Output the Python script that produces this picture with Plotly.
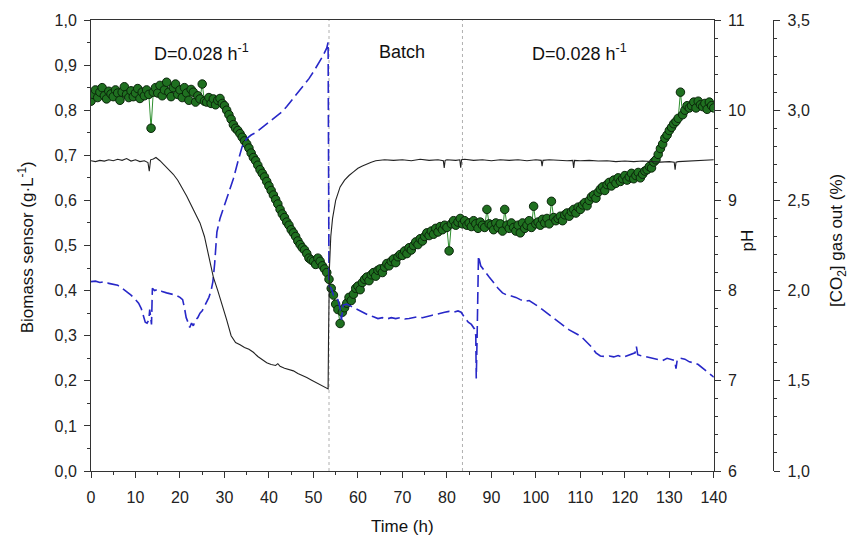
import plotly.graph_objects as go

# ---------------- data ----------------
bio_time = [i * 0.5 for i in range(281)]
biomass = [
    0.82, 0.835, 0.845, 0.828, 0.84, 0.85, 0.832, 0.825, 0.842, 0.836,
    0.83, 0.845, 0.838, 0.822, 0.84, 0.852, 0.835, 0.828, 0.843, 0.83,
    0.838, 0.848, 0.826, 0.84, 0.832, 0.845, 0.835, 0.76, 0.84, 0.85,
    0.838, 0.855, 0.832, 0.845, 0.862, 0.84, 0.83, 0.85, 0.858, 0.835,
    0.845, 0.828, 0.85, 0.838, 0.822, 0.846, 0.84, 0.818, 0.832, 0.825,
    0.858, 0.82, 0.818, 0.828, 0.815, 0.825, 0.812, 0.822, 0.826, 0.815,
    0.81, 0.80, 0.79, 0.78, 0.768, 0.76, 0.755, 0.748, 0.74, 0.732,
    0.725, 0.716, 0.705, 0.695, 0.688, 0.678, 0.668, 0.66, 0.652, 0.642,
    0.632, 0.622, 0.612, 0.602, 0.592, 0.58, 0.57, 0.562, 0.552, 0.545,
    0.535, 0.528, 0.52, 0.51, 0.502, 0.495, 0.49, 0.482, 0.472, 0.468,
    0.465, 0.458, 0.472, 0.465, 0.455, 0.448, 0.44, 0.425, 0.405, 0.39,
    0.37, 0.358, 0.327, 0.352, 0.362, 0.372, 0.385, 0.378, 0.392, 0.405,
    0.41, 0.402, 0.418, 0.425, 0.43, 0.422, 0.435, 0.44, 0.432, 0.445,
    0.448, 0.44, 0.452, 0.46, 0.455, 0.465, 0.47, 0.462, 0.475, 0.48,
    0.478, 0.488, 0.482, 0.495, 0.49, 0.50, 0.508, 0.502, 0.515, 0.51,
    0.52, 0.528, 0.522, 0.532, 0.525, 0.538, 0.53, 0.542, 0.535, 0.545,
    0.54, 0.488, 0.548, 0.555, 0.545, 0.552, 0.56, 0.548, 0.555, 0.545,
    0.55, 0.542, 0.555, 0.548, 0.538, 0.552, 0.545, 0.54, 0.58, 0.548,
    0.545, 0.535, 0.55, 0.54, 0.548, 0.532, 0.58, 0.545, 0.538, 0.55,
    0.54, 0.532, 0.545, 0.528, 0.55, 0.538, 0.545, 0.555, 0.54, 0.587,
    0.548, 0.552, 0.545, 0.558, 0.55, 0.56, 0.548, 0.598, 0.562, 0.555,
    0.56, 0.565, 0.555, 0.568, 0.572, 0.565, 0.575, 0.58, 0.572, 0.585,
    0.58, 0.59, 0.595, 0.588, 0.60, 0.608, 0.612, 0.605, 0.618, 0.625,
    0.63, 0.622, 0.635, 0.64, 0.632, 0.645, 0.638, 0.65, 0.642, 0.648,
    0.655, 0.645, 0.652, 0.66, 0.648, 0.655, 0.662, 0.65, 0.658, 0.665,
    0.668, 0.675, 0.672, 0.685, 0.69, 0.702, 0.715, 0.725, 0.738, 0.745,
    0.755, 0.762, 0.77, 0.775, 0.782, 0.84, 0.79, 0.80, 0.81, 0.805,
    0.81, 0.818, 0.805, 0.82, 0.812, 0.808, 0.815, 0.802, 0.818, 0.81,
    0.805,
]

ph_time = [
    0, 1, 2, 3, 4, 5, 6, 7, 8, 9,
    10, 10.7, 11.3, 11.8, 12.2, 12.6, 13.0, 13.2, 13.4, 13.6,
    13.8, 14.3, 15, 16, 17, 18, 19, 20, 20.6, 21.0,
    21.4, 21.8, 22.2, 22.6, 23.0, 23.5, 24, 24.5, 25, 25.5,
    26, 26.5, 27, 27.4, 27.8, 28.3, 29, 30, 31, 32,
    33, 34, 35, 36, 37, 38, 39, 40, 41, 42,
    43, 44, 45, 46, 47, 48, 49, 50, 51, 52,
    53, 53.3, 53.5, 54, 54.5, 55, 55.5, 56, 56.3, 56.7,
    57.5, 58.5, 59.5, 60.5, 61.5, 62.5, 63.5, 64.5, 65.5, 66.5,
    67.5, 68.5, 69.5, 70.5, 71.5, 72.5, 73.5, 74.5, 75.5, 76.5,
    77.5, 78.5, 79.5, 80.5, 81.5, 82.5, 83.2, 84, 84.8, 85.5,
    86.2, 86.5, 86.6, 86.8, 87.1, 87.6, 88.4, 89.5, 90.5, 91.5,
    92.5, 93.5, 94.5, 95.5, 96.5, 97.5, 98.5, 99.5, 100.5, 101.5,
    102.5, 103.5, 104.5, 105.5, 106.5, 107.5, 108.5, 109.5, 110.5, 111.5,
    112.5, 113.5, 114.5, 115.5, 116.5, 117.5, 118.5, 119.5, 120.5, 121.5,
    122.3, 122.6, 122.9, 123.5, 124.5, 125.5, 126.5, 127.5, 128.5, 129.5,
    130.5, 131.2, 131.5, 131.8, 132.5, 133.5, 134.5, 135.5, 136.5, 137.5,
    138.5, 139.5, 140,
]
ph_value = [
    8.10, 8.105, 8.09, 8.10, 8.08, 8.07, 8.06, 8.025, 7.99, 7.95,
    7.90, 7.86, 7.80, 7.725, 7.65, 7.64, 7.675, 7.79, 7.65, 7.625,
    8.025, 8.00, 8.015, 7.99, 7.975, 7.96, 7.95, 7.925, 7.90, 7.81,
    7.70, 7.65, 7.59, 7.64, 7.61, 7.675, 7.70, 7.75, 7.775, 7.825,
    7.875, 7.925, 8.00, 8.10, 8.30, 8.65, 8.80, 8.95, 9.075, 9.24,
    9.425, 9.60, 9.685, 9.725, 9.75, 9.79, 9.825, 9.86, 9.90, 9.94,
    9.985, 10.04, 10.10, 10.16, 10.225, 10.285, 10.35, 10.425, 10.50, 10.59,
    10.69, 10.755, 8.05, 8.025, 7.95, 7.925, 7.90, 7.80, 7.675, 7.84,
    7.85, 7.825, 7.80, 7.775, 7.75, 7.725, 7.71, 7.69, 7.70, 7.685,
    7.70, 7.69, 7.70, 7.685, 7.69, 7.70, 7.71, 7.70, 7.715, 7.725,
    7.735, 7.75, 7.76, 7.77, 7.76, 7.775, 7.76, 7.70, 7.65, 7.625,
    7.575, 7.50, 7.025, 7.50, 8.385, 8.275, 8.22, 8.15, 8.09, 8.025,
    7.975, 7.95, 7.94, 7.925, 7.90, 7.88, 7.89, 7.86, 7.825, 7.79,
    7.75, 7.71, 7.675, 7.64, 7.60, 7.565, 7.54, 7.51, 7.475, 7.425,
    7.375, 7.31, 7.275, 7.27, 7.275, 7.265, 7.28, 7.26, 7.275, 7.29,
    7.31, 7.38, 7.29, 7.28, 7.27, 7.26, 7.25, 7.235, 7.225, 7.25,
    7.24, 7.225, 7.135, 7.24, 7.25, 7.24, 7.21, 7.20, 7.18, 7.14,
    7.09, 7.06, 7.04,
]

co2_time = [
    0, 1, 2, 3, 4, 5, 6, 7, 8, 9,
    10, 11, 12, 12.8, 13.1, 13.4, 14, 14.6, 15.5, 16.5,
    17.5, 18.5, 19.5, 20.5, 21.5, 22.5, 23.5, 24.5, 25.5, 26.5,
    27.5, 28.5, 29.5, 30.5, 31.5, 32.5, 33.5, 34.5, 35.5, 36.5,
    37.5, 38.5, 39.5, 40.5, 41.5, 42, 42.5, 43.5, 44.5, 45.5,
    46.5, 47.5, 48.5, 49.5, 50.5, 51.5, 52.5, 53.3, 53.4, 53.6,
    53.9, 54.3, 55, 56, 57, 58, 59, 60, 61, 62,
    63, 64, 66, 68, 70, 72, 74, 76, 78, 79.2,
    79.4, 79.6, 80, 82, 82.9, 83.1, 83.3, 84, 86, 88,
    90, 92, 94, 96, 98, 100, 101.2, 101.4, 101.6, 103,
    105, 107, 108.3, 108.5, 108.7, 110, 112, 114, 116, 118,
    120, 122, 124, 126, 128, 130, 131.1, 131.3, 131.5, 132,
    134, 136, 138, 140,
]
co2_value = [
    2.720, 2.715, 2.722, 2.718, 2.725, 2.720, 2.728, 2.722, 2.732, 2.718,
    2.725, 2.715, 2.720, 2.710, 2.662, 2.725, 2.730, 2.738, 2.720, 2.695,
    2.675, 2.645, 2.612, 2.570, 2.525, 2.475, 2.425, 2.375, 2.300, 2.188,
    2.075, 2.000, 1.925, 1.838, 1.750, 1.712, 1.700, 1.685, 1.675, 1.658,
    1.635, 1.615, 1.600, 1.590, 1.585, 1.595, 1.580, 1.570, 1.562, 1.555,
    1.540, 1.530, 1.518, 1.505, 1.492, 1.482, 1.470, 1.455, 1.750, 2.125,
    2.300, 2.400, 2.500, 2.575, 2.612, 2.638, 2.658, 2.678, 2.690, 2.702,
    2.712, 2.720, 2.725, 2.722, 2.725, 2.720, 2.728, 2.722, 2.725, 2.720,
    2.680, 2.722, 2.725, 2.722, 2.725, 2.682, 2.725, 2.728, 2.722, 2.725,
    2.720, 2.725, 2.722, 2.725, 2.720, 2.725, 2.722, 2.690, 2.722, 2.725,
    2.722, 2.720, 2.722, 2.680, 2.722, 2.720, 2.722, 2.718, 2.720, 2.715,
    2.718, 2.715, 2.718, 2.715, 2.712, 2.715, 2.712, 2.670, 2.712, 2.715,
    2.718, 2.720, 2.722, 2.725,
]

phase_bounds = [53.5, 83.5]
phase_labels = ["D=0.028 h<sup>-1</sup>", "Batch", "D=0.028 h<sup>-1</sup>"]
phase_label_time = [24.8, 69.9, 109.8]

# ---------------- figure ----------------
FONT = "Arial, Liberation Sans, sans-serif"
fig = go.Figure()

fig.add_trace(go.Scatter(
    x=bio_time, y=biomass, mode="lines+markers", yaxis="y",
    line=dict(color="#2f8f2f", width=1),
    marker=dict(size=8.5, color="#1f7020", line=dict(color="#0a250a", width=1)),
    showlegend=False, hoverinfo="x+y"))

fig.add_trace(go.Scatter(
    x=co2_time, y=co2_value, mode="lines", yaxis="y3",
    line=dict(color="#222222", width=1.1),
    showlegend=False))

fig.add_trace(go.Scatter(
    x=ph_time, y=ph_value, mode="lines", yaxis="y2",
    line=dict(color="#2828c8", width=1.6, dash="12px,5px"),
    showlegend=False))

for b in phase_bounds:
    fig.add_shape(type="line", xref="x", yref="paper", x0=b, x1=b, y0=0, y1=1,
                  line=dict(color="#b0b0b0", width=1, dash="dot"), layer="below")

for lbl, t in zip(phase_labels, phase_label_time):
    fig.add_annotation(x=t, y=0.929, xref="x", yref="paper", text=lbl,
                       showarrow=False, xanchor="center", yanchor="middle",
                       font=dict(size=18, color="#111", family=FONT))

XD = 0.8462
tick_common = dict(ticks="outside", ticklen=6, tickwidth=1, tickcolor="#333",
                   showline=True, linecolor="#333", linewidth=1,
                   showgrid=False, zeroline=False,
                   tickfont=dict(size=16, color="#222", family=FONT))

fig.update_layout(
    width=852, height=545,
    margin=dict(l=91, r=20, t=18, b=74),
    paper_bgcolor="white", plot_bgcolor="white",
    separators=",.",
    font=dict(family=FONT, color="#222"),
    xaxis=dict(domain=[0, XD], range=[0, 140], dtick=10, mirror=True,
               ticklabelstandoff=6,
               minor=dict(dtick=5, ticks="outside", ticklen=3, tickcolor="#333"),
               **tick_common),
    yaxis=dict(range=[0, 1.0], dtick=0.1, tickformat=".1f", ticklabelstandoff=4,
               minor=dict(dtick=0.05, ticks="outside", ticklen=3, tickcolor="#333"),
               **tick_common),
    yaxis2=dict(range=[6, 11], dtick=1, overlaying="y", side="right", anchor="x",
                ticklabelstandoff=4,
                minor=dict(dtick=0.2, ticks="outside", ticklen=3, tickcolor="#333"),
                **tick_common),
    yaxis3=dict(range=[1.0, 3.5], dtick=0.5, tickformat=".1f", overlaying="y",
                side="right", anchor="free", position=0.9271, ticklabelstandoff=4,
                minor=dict(dtick=0.1, ticks="outside", ticklen=3, tickcolor="#333"),
                **tick_common),
)

fig.add_annotation(x=-0.089, y=0.497, xref="paper", yref="paper", textangle=-90,
                   text="Biomass sensor (g·L<sup>-1</sup>)", showarrow=False,
                   xanchor="center", yanchor="middle",
                   font=dict(size=17, color="#111", family=FONT))
fig.add_annotation(x=0.892, y=0.51, xref="paper", yref="paper", textangle=-90,
                   text="pH", showarrow=False, xanchor="center", yanchor="middle",
                   font=dict(size=17, color="#111", family=FONT))
fig.add_annotation(x=1.015, y=0.51, xref="paper", yref="paper", textangle=-90,
                   text="[CO<sub>2</sub>] gas out (%)", showarrow=False,
                   xanchor="center", yanchor="middle",
                   font=dict(size=17, color="#111", family=FONT))
fig.add_annotation(x=0.4231, y=-0.124, xref="paper", yref="paper",
                   text="Time (h)", showarrow=False, xanchor="center", yanchor="middle",
                   font=dict(size=17, color="#111", family=FONT))

fig.write_html("out.html")
